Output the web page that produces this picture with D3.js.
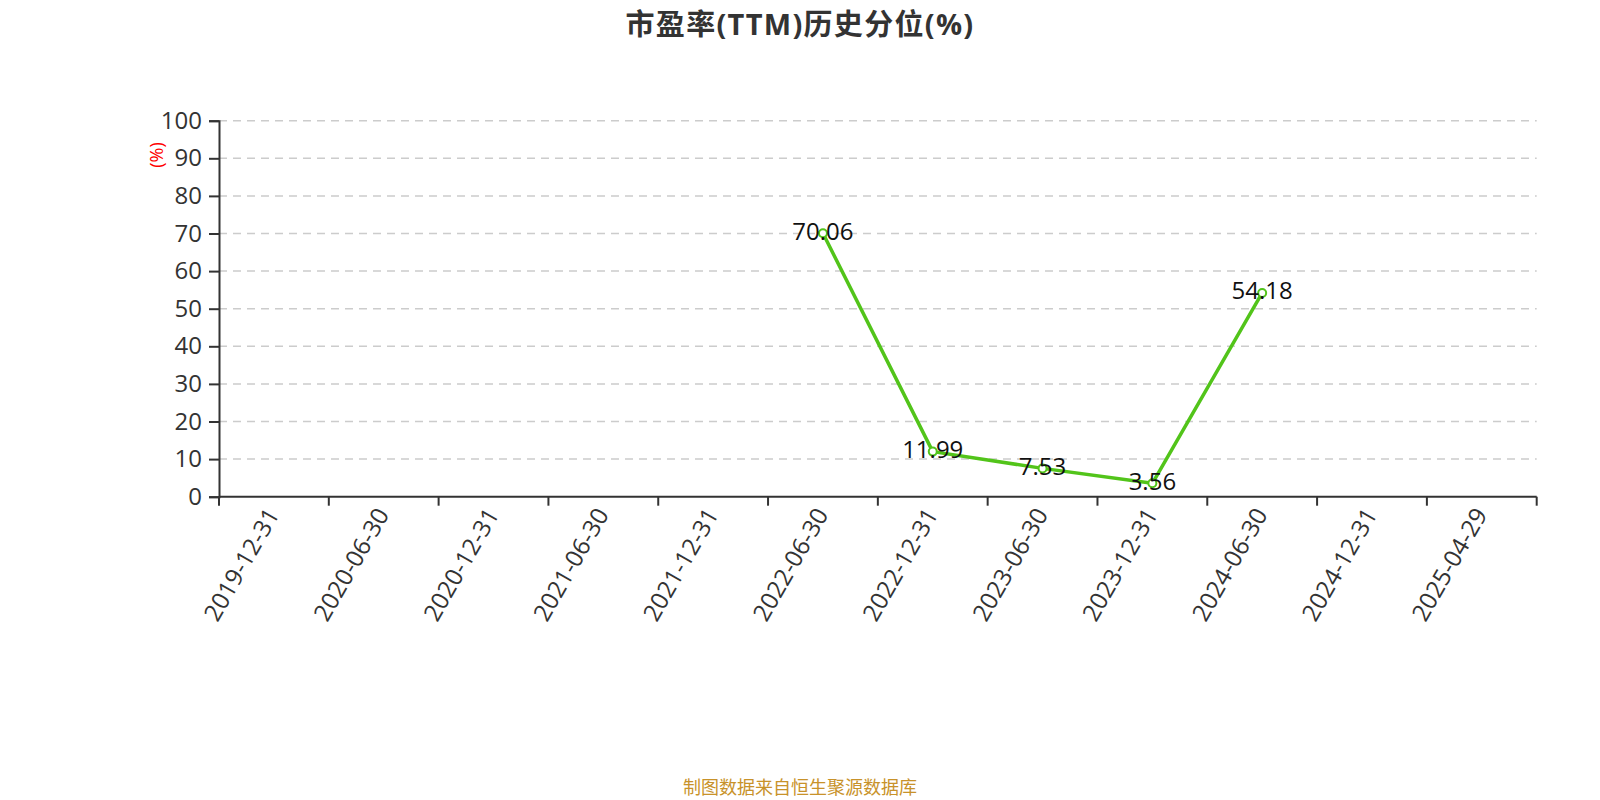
<!DOCTYPE html>
<html>
<head>
<meta charset="utf-8">
<script src="https://cdn.jsdelivr.net/npm/d3@7"></script>
<style>
  html, body { margin: 0; padding: 0; background: #fff; }
  svg { display: block; }
</style>
</head>
<body>
<svg id="chart" width="1600" height="800"></svg>
<script>
// ---- data ----
const categories = ["2019-12-31","2020-06-30","2020-12-31","2021-06-30","2021-12-31","2022-06-30","2022-12-31","2023-06-30","2023-12-31","2024-06-30","2024-12-31","2025-04-29"];
const seriesValues = [null, null, null, null, null, 70.06, 11.99, 7.53, 3.56, 54.18, null, null];
const yTicks = [0, 10, 20, 30, 40, 50, 60, 70, 80, 90, 100];
const titleText = "市盈率(TTM)历史分位(%)";
const unitText = "(%)";
const sourceText = "制图数据来自恒生聚源数据库";

// ---- layout ----
const plotLeft = 219, plotRight = 1536.7, plotTop = 120.7, plotBottom = 496.7;
const font = "'Open Sans', 'Noto Sans CJK SC', sans-serif";
const cjkFont = "'Noto Sans CJK SC', sans-serif";

const svg = d3.select("#chart");

const x = d3.scaleBand().domain(categories).range([plotLeft, plotRight]).paddingInner(0).paddingOuter(0);
const y = d3.scaleLinear().domain([0, 100]).range([plotBottom, plotTop]);

// title
svg.append("text")
  .attr("x", 800).attr("y", 23)
  .attr("text-anchor", "middle").attr("dominant-baseline", "central")
  .attr("font-family", font).attr("font-weight", "bold").attr("font-size", 29)
  .attr("letter-spacing", 1.3)
  .attr("fill", "#333").text(titleText);

// grid lines
svg.append("g").selectAll("line").data(yTicks.filter(d => d > 0)).join("line")
  .attr("x1", plotLeft).attr("x2", plotRight)
  .attr("y1", d => y(d)).attr("y2", d => y(d))
  .attr("stroke", "#cccccc").attr("stroke-width", 1.5).attr("stroke-dasharray", "8,6");

// y axis
const yAxis = svg.append("g").attr("transform", `translate(${plotLeft},0)`)
  .call(d3.axisLeft(y).tickValues(yTicks).tickSize(10).tickPadding(7).tickFormat(d3.format("d")));
yAxis.select(".domain").attr("stroke", "#333").attr("stroke-width", 2);
yAxis.selectAll(".tick line").attr("stroke", "#333").attr("stroke-width", 2);
yAxis.selectAll(".tick text").attr("font-family", font).attr("font-size", 24).attr("fill", "#333");

// x axis: ticks at band boundaries, labels at band centres
const xg = svg.append("g").attr("transform", `translate(0,${plotBottom})`);
xg.append("line").attr("x1", plotLeft).attr("x2", plotRight).attr("y1", 0).attr("y2", 0)
  .attr("stroke", "#333").attr("stroke-width", 2);
const boundaries = categories.map(c => x(c)).concat([x(categories[categories.length - 1]) + x.bandwidth()]);
xg.selectAll("line.tk").data(boundaries).join("line").attr("class", "tk")
  .attr("x1", d => d).attr("x2", d => d).attr("y1", 0).attr("y2", 9)
  .attr("stroke", "#333").attr("stroke-width", 2);
xg.selectAll("text").data(categories).join("text")
  .attr("transform", d => `translate(${x(d) + x.bandwidth() / 2 - 2},13) rotate(-60)`)
  .attr("text-anchor", "end").attr("dominant-baseline", "central")
  .attr("font-family", font).attr("font-size", 24).attr("fill", "#333")
  .text(d => d);

// unit label
svg.append("text")
  .attr("transform", "translate(156,155) rotate(-90)")
  .attr("text-anchor", "middle").attr("dominant-baseline", "central")
  .attr("font-family", font).attr("font-size", 18).attr("fill", "red")
  .text(unitText);

// line
const pts = categories.map((c, i) => ({ c, v: seriesValues[i] })).filter(d => d.v !== null);
const line = d3.line().x(d => x(d.c) + x.bandwidth() / 2).y(d => y(d.v));
svg.append("path").datum(pts).attr("d", line)
  .attr("fill", "none").attr("stroke", "#52c41a").attr("stroke-width", 3.5)
  .attr("stroke-linejoin", "round");

// markers
svg.append("g").selectAll("circle").data(pts).join("circle")
  .attr("cx", d => x(d.c) + x.bandwidth() / 2).attr("cy", d => y(d.v)).attr("r", 4)
  .attr("fill", "#fff").attr("stroke", "#52c41a").attr("stroke-width", 2);

// data labels
svg.append("g").selectAll("text").data(pts).join("text")
  .attr("x", d => x(d.c) + x.bandwidth() / 2).attr("y", d => y(d.v) - 3)
  .attr("text-anchor", "middle").attr("dominant-baseline", "central")
  .attr("font-family", font).attr("font-size", 24).attr("fill", "#111")
  .text(d => d.v.toFixed(2));

// source
svg.append("text")
  .attr("x", 800).attr("y", 786)
  .attr("text-anchor", "middle").attr("dominant-baseline", "central")
  .attr("font-family", cjkFont).attr("font-size", 18).attr("fill", "#c8922a")
  .text(sourceText);
</script>
</body>
</html>
